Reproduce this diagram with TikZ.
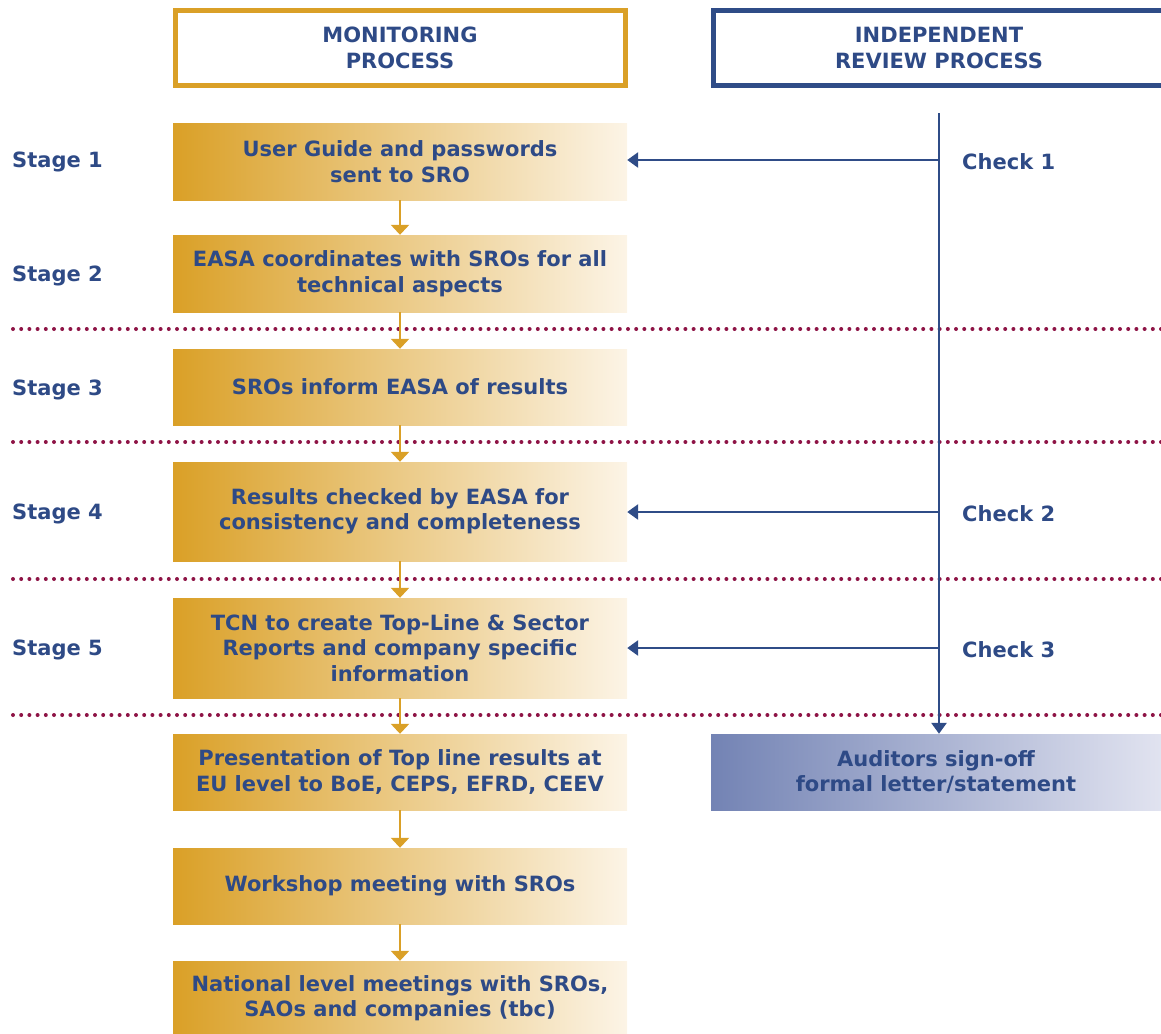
\documentclass[tikz,border=0pt]{standalone}
\usepackage{fontspec}
\setmainfont{DejaVu Sans}
\usetikzlibrary{arrows.meta}
\definecolor{gold}{HTML}{DAA027}
\definecolor{goldlight}{HTML}{FCF4E6}
\definecolor{navy}{HTML}{2F4C87}
\definecolor{txt}{HTML}{2E4A86}
\definecolor{dotred}{HTML}{8E1446}
\definecolor{audL}{HTML}{7383B4}
\definecolor{audR}{HTML}{E1E3F0}
\tikzset{
  x=1pt,y=-1pt,
  lbl/.style={font=\bfseries\fontsize{21}{25.5}\selectfont, text=txt, align=center},
  side/.style={font=\bfseries\fontsize{21}{25}\selectfont, text=txt, anchor=west, inner sep=0pt, yshift=-2pt},
  stepbox/.style={lbl, minimum width=454pt, inner sep=0pt, left color=gold, right color=goldlight, shading angle=90},
  goldarrow/.style={draw=gold, line width=2.8pt, -{Triangle[width=18pt,length=10pt]}},
  bluearrow/.style={draw=navy, line width=2.8pt, -{Triangle[width=15pt,length=11pt]}},
  dotline/.style={draw=dotred, line width=4pt, line cap=round, dash pattern=on 0pt off 8.2pt},
}
\begin{document}
\begin{tikzpicture}
\useasboundingbox (0,0) rectangle (1161,1033);
\begin{scope}
\clip (0,0) rectangle (1161,1033);
% headers
\draw[gold, line width=5pt] (175.5,10.5) rectangle (625.5,85.5);
\node[lbl] (h1) at (400,48) {MONITORING\\PROCESS};
\draw[navy, line width=5pt] (713.5,10.5) rectangle (1175,85.5);
\node[lbl] (h2) at (939,48) {INDEPENDENT\\REVIEW PROCESS};
% dotted lines
\foreach \yy in {329,442,579,715} \draw[dotline] (13,\yy) -- (1161,\yy);
% boxes
\node[stepbox, minimum height=77pt] (b1) at (400,161.5) {User Guide and passwords\\sent to SRO};
\node[stepbox, minimum height=77pt] (b2) at (400,273.5) {EASA coordinates with SROs for all\\technical aspects};
\node[stepbox, minimum height=76pt] (b3) at (400,387) {SROs inform EASA of results};
\node[stepbox, minimum height=99pt] (b4) at (400,511.5) {Results checked by EASA for\\consistency and completeness};
\node[stepbox, minimum height=100pt] (b5) at (400,648) {TCN to create Top-Line \& Sector\\Reports and company specific\\information};
\node[stepbox, minimum height=76pt] (b6) at (400,772) {Presentation of Top line results at\\EU level to BoE, CEPS, EFRD, CEEV};
\node[stepbox, minimum height=76pt] (b7) at (400,886) {Workshop meeting with SROs};
\node[stepbox, minimum height=74pt] (b8) at (400,998) {National level meetings with SROs,\\SAOs and companies (tbc)};
\node[lbl, minimum width=450pt, minimum height=76pt, inner sep=0pt, left color=audL, right color=audR, shading angle=90] (aud) at (936,772) {Auditors sign-off\\formal letter/statement};
% gold arrows
\foreach \a/\b in {b1/b2,b2/b3,b3/b4,b4/b5,b5/b6,b6/b7,b7/b8}
  \draw[goldarrow] (\a.south) -- (\b.north);
% blue vertical
\coordinate (vtop) at (939,113);
\draw[bluearrow] (vtop) -- (aud.north -| vtop);
\coordinate (c1) at (939,160);
\coordinate (c2) at (939,512);
\coordinate (c3) at (939,648);
\draw[bluearrow] (c1) -- (c1 -| b1.east);
\draw[bluearrow] (c2) -- (c2 -| b4.east);
\draw[bluearrow] (c3) -- (c3 -| b5.east);
% side labels
\node[side] (s1) at (12,160) {Stage 1};
\node[side] (s2) at (12,274) {Stage 2};
\node[side] (s3) at (12,388) {Stage 3};
\node[side] (s4) at (12,512) {Stage 4};
\node[side] (s5) at (12,648) {Stage 5};
\node[side] (k1) at (962,160) {Check 1};
\node[side] (k2) at (962,512) {Check 2};
\node[side] (k3) at (962,648) {Check 3};
\end{scope}
\end{tikzpicture}
\end{document}
